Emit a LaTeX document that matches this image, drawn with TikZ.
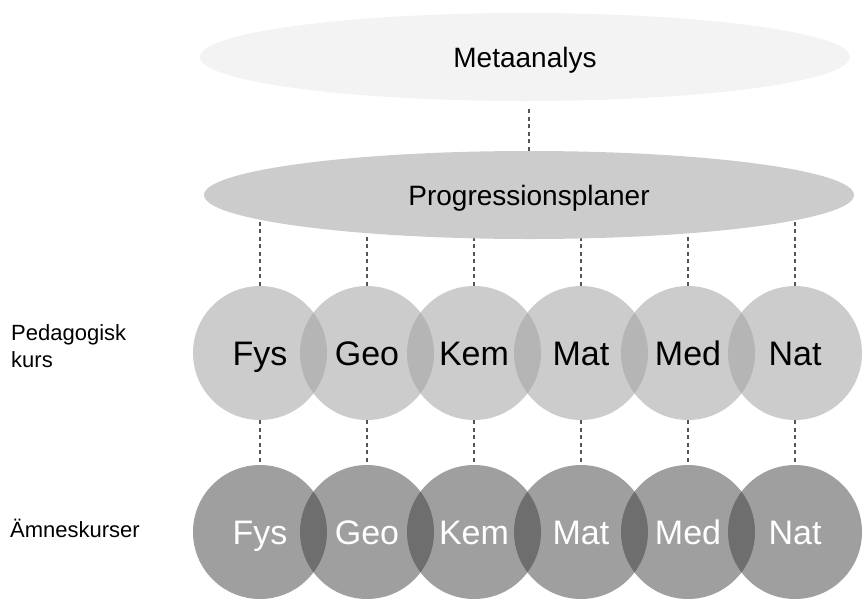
\documentclass[tikz,border=0pt]{standalone}
\usepackage{fontspec}
\setmainfont{Liberation Sans}
\usetikzlibrary{shapes.geometric}
\pgfdeclarelayer{background}
\pgfsetlayers{background,main}
\definecolor{metafill}{RGB}{243,243,243}
\definecolor{progfill}{RGB}{204,204,204}
\definecolor{circAfill}{RGB}{162,162,162}
\definecolor{circBfill}{RGB}{63,63,63}
\definecolor{dashcol}{RGB}{85,85,85}
\begin{document}
\begin{tikzpicture}[x=1pt,y=-1pt,
  oval/.style={ellipse, minimum width=650pt, minimum height=88pt, inner sep=0pt,
    font=\fontsize{28}{32}\selectfont, text height=20pt, text depth=0pt},
  subjA/.style={circle, minimum size=134pt, inner sep=0pt, fill=circAfill, fill opacity=0.55,
    text opacity=1, text=black, font=\fontsize{34}{40}\selectfont, text height=24pt, text depth=0pt},
  subjB/.style={subjA, fill=circBfill, fill opacity=0.5, text=white},
  sidelabel/.style={anchor=base west, font=\fontsize{22}{26.6}\selectfont, align=left, inner sep=0pt},
  conn/.style={draw=dashcol, line width=1.3pt, dash pattern=on 4pt off 3.5pt}]
\useasboundingbox (0,0) rectangle (862,598);

\node[oval, fill=metafill] (meta) at (525,57) {Metaanalys};
\node[oval, fill=progfill] (prog) at (529,195) {Progressionsplaner};

\node[subjA] (pfys) at (260,353) {Fys};
\node[subjA] (pgeo) at (367,353) {Geo};
\node[subjA] (pkem) at (474,353) {Kem};
\node[subjA] (pmat) at (581,353) {Mat};
\node[subjA] (pmed) at (688,353) {Med};
\node[subjA] (pnat) at (795,353) {Nat};

\node[subjB] (afys) at (260,532) {Fys};
\node[subjB] (ageo) at (367,532) {Geo};
\node[subjB] (akem) at (474,532) {Kem};
\node[subjB] (amat) at (581,532) {Mat};
\node[subjB] (amed) at (688,532) {Med};
\node[subjB] (anat) at (795,532) {Nat};

\node[sidelabel] (ped) at (11,367.3) {Pedagogisk\\kurs};
\node[sidelabel] (amn) at (10,537) {Ämneskurser};

\draw[conn, shorten >=6pt] (prog.north) -- (meta.south -| prog.north);
\begin{pgfonlayer}{background}
  \foreach \n in {pfys,pgeo,pkem,pmat,pmed,pnat}
    \draw[conn] (\n.north) -- (\n.north |- prog.center);
\end{pgfonlayer}
\draw[conn] (pfys.south) -- (afys.north);
\draw[conn] (pgeo.south) -- (ageo.north);
\draw[conn] (pkem.south) -- (akem.north);
\draw[conn] (pmat.south) -- (amat.north);
\draw[conn] (pmed.south) -- (amed.north);
\draw[conn] (pnat.south) -- (anat.north);
\end{tikzpicture}
\end{document}
